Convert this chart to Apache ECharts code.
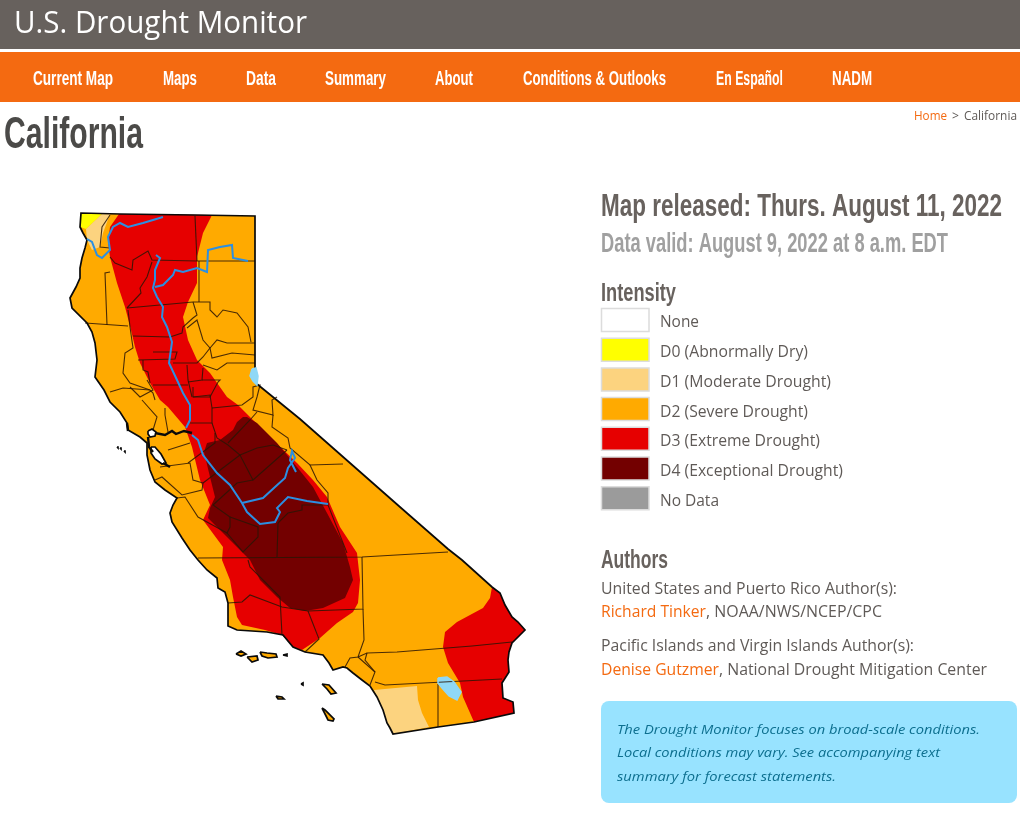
<!DOCTYPE html>
<html>
<head>
<meta charset="utf-8">
<title>U.S. Drought Monitor - California</title>
<script src="https://cdn.jsdelivr.net/npm/echarts@6/dist/echarts.min.js"></script>
<style>
html,body{margin:0;padding:0;background:#fff}
#main{width:1020px;height:814px}
</style>
</head>
<body>
<div id="main"></div>
<script>
// legend
var intensityLabels = ['None','D0 (Abnormally Dry)','D1 (Moderate Drought)','D2 (Severe Drought)','D3 (Extreme Drought)','D4 (Exceptional Drought)','No Data']
var intensityColors = ['#ffffff','#ffff00','#fcd37f','#ffaa00','#e60000','#730000','#9b9b9b']
var navItems = ['Current Map','Maps','Data','Summary','About','Conditions & Outlooks','En Español','NADM']
var noteLines = ['The Drought Monitor focuses on broad-scale conditions.','Local conditions may vary. See accompanying text','summary for forecast statements.']

// map outlines, in map units
var stateOutline = [[81,213],[120,214],[195,215],[255,216],[255,300],[255,368],[257,384],[300,419],[350,463],[400,507],[448,549],[462,560],[492,587],[500,593],[505,605],[512,617],[518,622],[525,630],[515,640],[512,643],[509,652],[508,660],[509,672],[502,683],[503,698],[513,702],[514,713],[474,722],[438,727],[393,734],[390,728],[387,723],[383,710],[377,697],[370,686],[362,680],[353,673],[347,668],[343,667],[333,670],[329,663],[323,655],[305,652],[293,647],[283,635],[267,632],[237,630],[228,626],[228,603],[225,592],[218,588],[217,578],[207,570],[198,560],[190,550],[182,538],[172,522],[170,513],[173,505],[177,498],[165,490],[155,482],[150,470],[147,455],[147,443],[140,437],[128,430],[127,423],[120,412],[110,402],[104,390],[95,377],[97,360],[95,343],[92,332],[87,323],[72,308],[70,298],[76,287],[80,278],[80,268],[82,258],[85,248],[87,240],[83,233],[80,227]]
var tahoeGapEnd = 6 // state line stops at the lake, resumes at this vertex
var islands = [
  [[236,654],[241,651],[246,654],[241,656]],
  [[247,657],[257,656],[258,660],[252,662]],
  [[260,652],[267,653],[276,654],[277,657],[268,658],[262,656]],
  [[283,655],[287,654],[287,656]],
  [[301,684],[303,683],[303,685]],
  [[322,684],[329,685],[336,693],[331,694],[327,689]],
  [[276,696],[282,697],[284,699],[278,699]],
  [[322,708],[325,710],[334,719],[333,721],[328,720]],
  [[117,447],[118,447],[118,448]],
  [[120,448],[121,448],[121,449]],
  [[124,451],[125,451],[125,452]]
]
var d0Zone = [[81,213],[102,214],[86,229],[80,227]]
var d1North = [[102,214],[110,214],[103,233],[100,247],[92,250],[87,240],[86,229]]
var d1South = [[374,690],[417,686],[418,700],[422,713],[429,727],[393,734],[390,728],[387,723],[383,710],[377,697]]
var d3Main = [[119,214],[110,227],[108,242],[110,257],[117,283],[125,307],[131,330],[135,347],[140,363],[150,383],[160,400],[168,407],[185,427],[192,447],[200,480],[210,505],[203,520],[223,547],[222,560],[230,580],[233,597],[237,617],[242,625],[265,630],[282,635],[293,647],[302,650],[320,638],[337,623],[353,612],[358,603],[360,580],[357,553],[340,527],[327,497],[313,480],[297,463],[273,440],[253,420],[238,405],[227,397],[210,373],[197,360],[188,340],[183,317],[188,302],[197,283],[197,257],[203,233],[212,215]]
var d3East = [[492,587],[490,598],[483,608],[457,622],[445,632],[443,647],[448,663],[460,683],[463,697],[474,722],[514,713],[513,702],[503,698],[502,683],[509,672],[508,660],[509,652],[512,643],[515,640],[525,630],[518,622],[512,617],[505,605],[500,593]]
var d4Zone = [[243,417],[237,422],[233,430],[220,440],[207,443],[204,452],[210,477],[215,497],[210,508],[208,518],[227,537],[247,557],[250,560],[260,580],[277,597],[290,608],[305,611],[323,608],[345,598],[353,580],[350,567],[343,543],[327,513],[313,487],[297,467],[277,443],[257,423],[247,417]]
var bayWater = [
  [[148,431],[152,429],[156,432],[155,436],[150,437],[148,434]],
  [[151,447],[155,447],[161,454],[166,463],[162,464],[155,459],[151,453]]
]
var lakes = [
  [[252,369],[256,368],[258,376],[257,385],[253,381],[250,376]],
  [[438,678],[447,677],[454,682],[461,692],[457,700],[449,696],[442,688],[438,683]]
]

var countyLines = [
  [[195,216],[197,261]],
  [[110,257],[115,263],[132,270],[133,260],[148,251],[152,260],[197,261],[255,261]],
  [[152,262],[147,277],[140,288],[141,293],[127,308]],
  [[127,308],[160,305],[193,302],[210,302],[210,310],[217,317],[223,310],[237,313],[248,327],[251,342]],
  [[199,261],[199,302]],
  [[110,215],[102,227],[100,247],[110,248]],
  [[110,272],[105,273],[107,325]],
  [[85,323],[128,326]],
  [[128,310],[130,327],[133,348],[125,353],[123,373],[130,383],[150,390]],
  [[133,336],[170,337],[182,333],[183,327],[193,318],[197,315],[193,302]],
  [[187,328],[197,320],[203,340],[210,348],[217,340],[227,343],[255,343]],
  [[138,360],[175,359],[177,352],[153,352]],
  [[173,363],[197,363],[203,357],[210,348],[212,358],[232,353],[255,355]],
  [[203,365],[217,370],[227,363],[255,363]],
  [[187,365],[188,380],[192,397]],
  [[188,382],[202,380],[203,368]],
  [[202,380],[220,380],[218,382],[210,397],[193,397]],
  [[153,385],[188,385]],
  [[143,360],[143,370],[148,372],[150,383]],
  [[110,392],[123,388],[150,390],[153,393],[155,400]],
  [[130,387],[140,397],[153,390],[147,380]],
  [[142,400],[157,417],[153,430]],
  [[165,408],[165,415],[168,432]],
  [[193,387],[193,397],[210,395],[212,408],[212,423],[190,423]],
  [[212,408],[242,405],[253,397],[253,387],[260,385],[257,397],[253,410],[273,415],[272,400],[277,397]],
  [[212,423],[217,438],[228,445],[240,455],[253,480],[287,450]],
  [[228,443],[250,420],[257,412]],
  [[240,455],[203,483]],
  [[240,455],[257,448],[273,445],[287,450]],
  [[273,415],[272,427],[288,438],[290,448],[310,465],[343,464]],
  [[215,433],[215,443],[188,463]],
  [[168,450],[190,443]],
  [[160,467],[190,463],[193,480],[203,483]],
  [[155,480],[162,477],[182,495],[202,490],[203,483]],
  [[177,498],[185,497],[198,517],[207,522],[227,533],[230,527],[230,517],[213,505],[237,483],[253,480]],
  [[230,517],[258,527],[258,537],[243,552],[227,533]],
  [[278,523],[277,557]],
  [[278,523],[288,513],[302,510],[302,505],[328,505]],
  [[198,558],[362,557],[448,552]],
  [[310,465],[317,480],[328,493],[328,505],[347,553]],
  [[362,557],[363,609],[308,611],[282,607],[250,595],[242,602],[228,603]],
  [[248,560],[250,567],[280,597],[282,635]],
  [[308,611],[319,639],[305,652]],
  [[363,609],[364,640],[358,657],[350,658],[345,667]],
  [[358,657],[375,672],[370,685]],
  [[358,657],[367,653],[397,652],[472,646],[512,642]],
  [[367,653],[365,660],[375,672]],
  [[375,682],[385,685],[502,679]],
  [[438,684],[438,727]]
]
var deltaChannels = [
  [[155,433],[165,435],[172,431],[176,434],[184,431],[192,433]],
  [[127,423],[128,431]],
  [[148,437],[149,447],[153,452]],
  [[163,463],[170,467]]
]
var rivers = [
  [[87,239],[92,242],[97,255],[102,258],[110,250],[108,237],[113,227],[120,223],[128,227],[143,223],[153,220],[163,217]],
  [[156,255],[160,258],[155,270],[155,280],[153,288],[157,297],[163,307],[162,317],[167,327],[172,342],[169,363],[177,380],[183,393],[190,405],[190,420],[186,428]],
  [[155,287],[163,285],[173,275],[175,270],[183,272],[197,268],[207,272],[208,250],[220,247],[232,245],[233,258],[248,261]],
  [[192,435],[198,440],[203,455],[217,473],[230,485],[242,503],[247,512],[260,524],[275,522],[280,512],[277,508],[288,497],[307,501],[328,504]],
  [[242,503],[263,498],[275,487],[285,478],[288,468],[295,458],[292,451],[290,460],[296,472]]
]

function closed(ring){ return ring.concat([ring[0]]) }
function feature(name,ring){
  return {type:'Feature',properties:{name:name},geometry:{type:'Polygon',coordinates:[closed(ring)]}}
}

var features = [feature('state',stateOutline)]
islands.forEach(function(r,i){ features.push(feature('island'+i,r)) })
features.push(feature('d0',d0Zone),feature('d1n',d1North),feature('d1s',d1South),feature('d3m',d3Main),feature('d3e',d3East),feature('d4',d4Zone))
bayWater.forEach(function(r,i){ features.push(feature('bay'+i,r)) })
lakes.forEach(function(r,i){ features.push(feature('lake'+i,r)) })
echarts.registerMap('california',{type:'FeatureCollection',features:features})

var regionColors = {d0:intensityColors[1],d1n:intensityColors[2],d1s:intensityColors[2],d3m:intensityColors[4],d3e:intensityColors[4],d4:intensityColors[5],state:intensityColors[3]}
var lakeColor = '#8fd8f6'
var regions = features.map(function(f){
  var n = f.properties.name, c = regionColors[n]
  if(n.indexOf('island')==0) c = intensityColors[3]
  if(n.indexOf('bay')==0) c = '#ffffff'
  if(n.indexOf('lake')==0) c = lakeColor
  return {name:n,itemStyle:{areaColor:c,borderWidth:0},silent:true}
})

function toLines(list){ return list.map(function(c){ return {coords:c} }) }
var stateBorder = stateOutline.slice(tahoeGapEnd).concat(stateOutline.slice(0,tahoeGapEnd))
var outlineLines = [stateBorder].concat(islands.map(closed),bayWater.map(closed))

// text helper, squeezes to the width measured on the picture
var ctx = document.createElement('canvas').getContext('2d')
function label(text,x,y,font,color,width){
  ctx.font = font
  var sx = width ? width/ctx.measureText(text).width : 1
  return {type:'text',x:x,y:y,scaleX:sx,z:10,silent:true,
    style:{text:text,font:font,fill:color,textAlign:'left',textVerticalAlign:'middle'}}
}
function box(x,y,w,h,fill,stroke,r){
  return {type:'rect',z:5,silent:true,shape:{x:x,y:y,width:w,height:h,r:r||0},style:{fill:fill,stroke:stroke||null,lineWidth:stroke?1.5:0}}
}

var condensed = '"Liberation Sans Narrow","Liberation Sans",sans-serif'
var body = '"Open Sans",sans-serif'
var navX = [33,163,246,325,435,523,716,832]
var navW = [80,34,30,61,38,143,67,40]
var legendW = [39,148,171,148,160,183,59]
var grey = '#5f5a57'
var orange = '#f46a11'

var g = [
  box(0,0,1020,49,'#67615d'),
  box(0,52,1020,50,orange),
  label('U.S. Drought Monitor',14,24,'31px '+body,'#ffffff',293),
  label('California',4,136,'bold 44px '+condensed,'#4b4a48',139),
  label('Home',914,116,'12.5px '+body,orange,33),
  label('>',952,116,'12.5px '+body,grey,7),
  label('California',964,116,'12.5px '+body,grey,53),
  label('Map released: Thurs. August 11, 2022',601,207,'bold 31px '+condensed,'#68625e',401),
  label('Data valid: August 9, 2022 at 8 a.m. EDT',601,245,'bold 27px '+condensed,'#a0a0a0',347),
  label('Intensity',601,294,'bold 25px '+condensed,'#68625e',75),
  label('Authors',601,561,'bold 25px '+condensed,'#68625e',67),
  label('United States and Puerto Rico Author(s):',601,590,'15.5px '+body,grey,296),
  label('Richard Tinker',601,613,'15.5px '+body,orange,105),
  label(', NOAA/NWS/NCEP/CPC',706,613,'15.5px '+body,grey,176),
  label('Pacific Islands and Virgin Islands Author(s):',601,647,'15.5px '+body,grey,313),
  label('Denise Gutzmer',601,671,'15.5px '+body,orange,118),
  label(', National Drought Mitigation Center',719,671,'15.5px '+body,grey,268),
  box(601,701,416,102,'#98e3ff',null,8)
]
navItems.forEach(function(t,i){
  g.push(label(t,navX[i],79,'bold 20px '+condensed,'#ffffff',navW[i]))
})
intensityLabels.forEach(function(t,i){
  var yy = 320+i*29.7
  g.push(box(601.5,yy-11.5,47.5,23,intensityColors[i],'#dcdcdc'))
  g.push(label(t,660,yy+3,'15.5px '+body,grey,legendW[i]))
})
var noteW = [363,323,219]
noteLines.forEach(function(t,i){
  g.push(label(t,617,730+i*23.5,'italic 13.5px '+body,'#0d6f8f',noteW[i]))
})

var myChart = echarts.init(document.getElementById('main'))
var option = {
  animation:false,
  backgroundColor:'#ffffff',
  tooltip:{show:false},
  geo:{
    map:'california',
    silent:true,
    roam:false,
    left:70,top:213,width:455,height:521,
    projection:{project:function(p){return p},unproject:function(p){return p}},
    label:{show:false},
    itemStyle:{borderWidth:0,areaColor:intensityColors[3]},
    emphasis:{disabled:true},
    regions:regions
  },
  series:[
    {type:'lines',coordinateSystem:'geo',polyline:true,silent:true,z:3,
      lineStyle:{color:'#2a1505',width:1.1,opacity:0.85},data:toLines(countyLines)},
    {type:'lines',coordinateSystem:'geo',polyline:true,silent:true,z:4,
      lineStyle:{color:'#0a0a0a',width:1.7,opacity:1},data:toLines(outlineLines)},
    {type:'lines',coordinateSystem:'geo',polyline:true,silent:true,z:4,
      lineStyle:{color:'#0a0a0a',width:2.4,opacity:1},data:toLines(deltaChannels)},
    {type:'lines',coordinateSystem:'geo',polyline:true,silent:true,z:5,
      lineStyle:{color:lakeColor,width:1.5,opacity:1},data:toLines(lakes.map(closed))},
    {type:'lines',coordinateSystem:'geo',polyline:true,silent:true,z:6,
      lineStyle:{color:'#2b8fe2',width:2,opacity:1},data:toLines(rivers)}
  ],
  graphic:{elements:g}
}
myChart.setOption(option)
</script>
</body>
</html>
